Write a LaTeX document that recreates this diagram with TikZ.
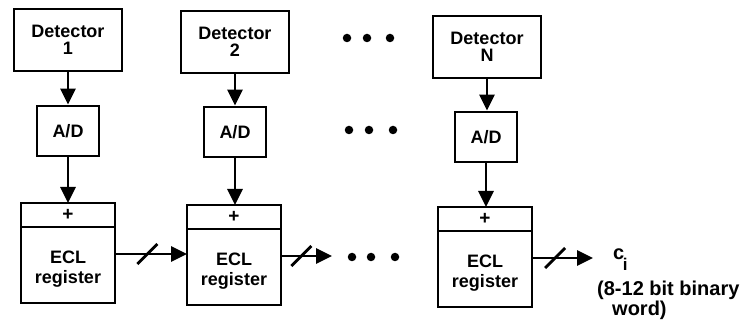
\documentclass[tikz,border=0pt]{standalone}
\usepackage{fontspec}
\setmainfont{Liberation Sans}
\usetikzlibrary{arrows.meta,positioning}
\tikzstyle{detector}=[draw=black,rectangle,line width=2.9pt,minimum width=108pt,minimum height=62pt,inner sep=0pt,align=center,font=\bfseries\fontsize{18}{17}\selectfont]
\tikzstyle{adc}=[draw=black,rectangle,line width=2.9pt,minimum width=62pt,minimum height=50pt,inner sep=0pt,font=\bfseries\fontsize{18}{17}\selectfont]
\tikzstyle{adder}=[draw=black,rectangle,line width=2.9pt,minimum width=94pt,minimum height=24pt,inner sep=0pt,outer sep=0pt,font=\bfseries\fontsize{19}{18}\selectfont]
\tikzstyle{register}=[draw=black,rectangle,line width=2.9pt,minimum width=94pt,minimum height=76pt,inner sep=0pt,outer sep=0pt,align=center,text height=40pt,font=\bfseries\fontsize{18}{20}\selectfont]
\tikzstyle{dot}=[circle,fill=black,minimum size=8.5pt,inner sep=0pt,outer sep=0pt]
\tikzstyle{flow}=[line width=2.9pt,-{Triangle[width=15pt,length=16pt]}]
\tikzstyle{tick}=[line width=2.9pt]
\tikzstyle{note}=[align=left,font=\bfseries\fontsize{20}{15}\selectfont,inner sep=0pt]

\begin{document}
\begin{tikzpicture}[x=1pt,y=-1pt]
\useasboundingbox (0,0) rectangle (747,320);
\node[detector] (d1) at (68,40) {Detector\\1};
\node[detector] (d2) at (235,42) {Detector\\2};
\node[detector] (dN) at (487,47) {Detector\\N};
\node[adc] (a1) at (68,131) {A/D};
\node[adc] (a2) at (235,132) {A/D};
\node[adc] (aN) at (486,137) {A/D};
\node[adder] (p1) at (68,215) {+};
\node[adder] (p2) at (234,217) {+};
\node[adder] (pN) at (485,219) {+};
\node[register] (r1) [below=0pt of p1] {ECL\\register};
\node[register] (r2) [below=0pt of p2] {ECL\\register};
\node[register] (rN) [below=0pt of pN] {ECL\\register};
\node[dot] (t1) at (347,38) {};
\node[dot] (t2) at (367,38) {};
\node[dot] (t3) at (390,38) {};
\node[dot] (m1) at (349,130) {};
\node[dot] (m2) at (369,130) {};
\node[dot] (m3) at (393,130) {};
\node[dot] (b1) at (352,257) {};
\node[dot] (b2) at (371,257) {};
\node[dot] (b3) at (395,257) {};
\coordinate (e2) at (332,257);
\coordinate (eN) at (593,257);
\node[note,anchor=base west] (ci) at (613,260) {c\kern-1.5pt\raisebox{-11pt}{\fontsize{17}{17}\selectfont i}};
\node[note,anchor=north west] (word) at (597,281) {(8-12 bit binary\\\hspace*{15pt}word)};
\draw[flow] (d1.south) -- (d1.south |- a1.north);
\draw[flow] (d2.south) -- (d2.south |- a2.north);
\draw[flow] (dN.south) -- (dN.south |- aN.north);
\draw[flow] (a1.south) -- (a1.south |- p1.north);
\draw[flow] (a2.south) -- (a2.south |- p2.north);
\draw[flow] (aN.south) -- (aN.south |- pN.north);
\draw[flow] ([yshift=11pt]r1.east) -- coordinate[pos=.45] (s1) ([yshift=11pt]r1.east -| r2.west);
\draw[flow] ([yshift=11pt]r2.east) -- coordinate[pos=.4] (s2) ([yshift=11pt]r2.east -| e2);
\draw[flow] ([yshift=11pt]rN.east) -- coordinate[pos=.38] (sN) ([yshift=11pt]rN.east -| eN);
\draw[tick] ([shift={(-10pt,-10pt)}]s1) -- ([shift={(10pt,10pt)}]s1);
\draw[tick] ([shift={(-10pt,-10pt)}]s2) -- ([shift={(10pt,10pt)}]s2);
\draw[tick] ([shift={(-10pt,-10pt)}]sN) -- ([shift={(10pt,10pt)}]sN);
\end{tikzpicture}
\end{document}
